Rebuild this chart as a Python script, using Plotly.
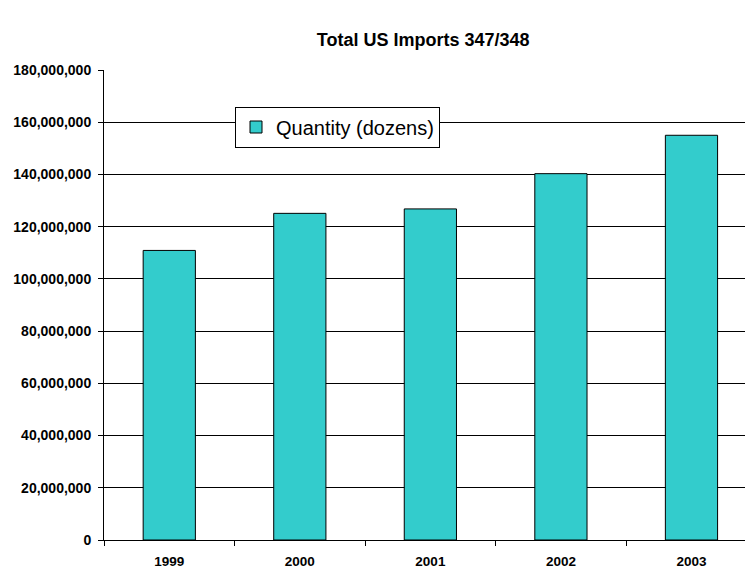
import plotly.graph_objects as go

years = ["1999", "2000", "2001", "2002", "2003"]
quantity = [110900000, 125100000, 126800000, 140300000, 155000000]
y_ticks = list(range(0, 180000001, 20000000))
y_tick_labels = [f"{v:,}" for v in y_ticks]

fig = go.Figure()
fig.add_trace(go.Bar(
    x=years, y=quantity, name="Quantity (dozens)",
    marker=dict(color="#33CCCC", line=dict(color="black", width=1)),
))

fig.update_layout(
    width=745, height=571,
    margin=dict(l=104, r=0, t=70, b=31),
    paper_bgcolor="white", plot_bgcolor="white",
    font=dict(family="Liberation Sans, Arial, sans-serif", color="black"),
    bargap=0.6,
    showlegend=True,
    title=dict(text="<b>Total US Imports 347/348</b>", x=0.568, xref="container", xanchor="center",
               y=1 - 40 / 571, yref="container", yanchor="middle",
               font=dict(size=18, color="black")),
    legend=dict(x=(235 - 104) / 641, y=(539.5 - 106) / 470, xanchor="left", yanchor="top",
                bgcolor="white", bordercolor="black", borderwidth=1, itemwidth=30,
                font=dict(size=20, color="black")),
    xaxis=dict(range=[-0.5, 4.41], type="category", tickson="boundaries", ticks="outside", ticklen=5,
               tickcolor="black", showline=True, linecolor="black", linewidth=1,
               tickfont=dict(size=13.5, color="black"), ticklabelstandoff=9,
               showgrid=False, tickprefix="<b>", ticksuffix="</b>"),
    yaxis=dict(range=[0, 180000000], tickvals=y_ticks, ticktext=[f"<b>{t}</b>" for t in y_tick_labels],
               ticks="outside", ticklen=5, tickcolor="black", showline=True, linecolor="black", linewidth=1,
               showgrid=True, gridcolor="black", gridwidth=1, zeroline=False, ticklabelstandoff=4,
               tickfont=dict(size=14, color="black")),
)

fig.write_html("out.html")
